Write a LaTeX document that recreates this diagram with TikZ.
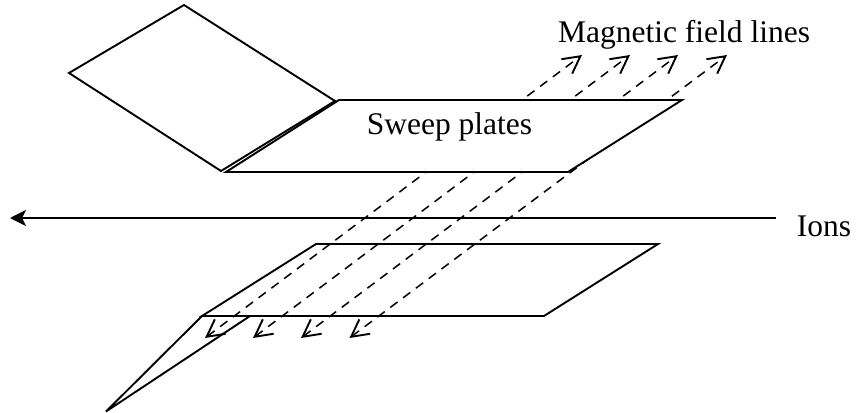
\documentclass[tikz,border=0pt]{standalone}
\usepackage{fontspec}
\setmainfont{Liberation Serif}
\usetikzlibrary{arrows.meta, positioning}
\begin{document}
\begin{tikzpicture}[
    x=1pt, y=-1pt,
    every node/.style={font=\fontsize{31.5}{34}\selectfont, inner sep=0pt},
    plate/.style={draw=black, fill=white, line width=1.9pt, line join=miter},
    fieldline/.style={black, dash pattern=on 9pt off 7pt, line width=1.5pt, {Straight Barb[length=17pt, width=18pt, line width=1.9pt]}-{Straight Barb[length=17pt, width=18pt, line width=1.9pt]}}
]
\useasboundingbox (0, 0) rectangle (856, 412);

% lower plates
\draw[plate] (202, 316) -- (106, 411.5) -- (250, 316);
\draw[plate] (316, 244) -- (658, 244) -- (544, 316) -- (202, 316) -- cycle;

% field lines
\foreach \i/\xb/\xt in {1/205/582, 2/253/630, 3/301/678, 4/349.5/727} {
    \coordinate (top\i) at (\xt, 55);
    \coordinate (bot\i) at (\xb, 338);
    \draw[fieldline] (bot\i) -- (top\i);
}

% upper plates
\draw[plate] (184, 5) -- (69, 73) -- (221, 171) -- (335, 101) -- cycle;
\draw[plate] (339, 100) -- (682, 100) -- (568, 172) -- (226, 172) -- cycle;

\coordinate (ionstart) at (776, 218);
\coordinate (ionend) at (10, 218);
\draw[line width=2.2pt, -{Stealth[length=16pt, width=16pt, inset=4pt]}] (ionstart) -- (ionend);

\node (sweep) at (449.5, 127) {Sweep plates};
\node (field) at (684, 35) {Magnetic field lines};
\node (ions) at (824, 226) {Ions};
\end{tikzpicture}
\end{document}
